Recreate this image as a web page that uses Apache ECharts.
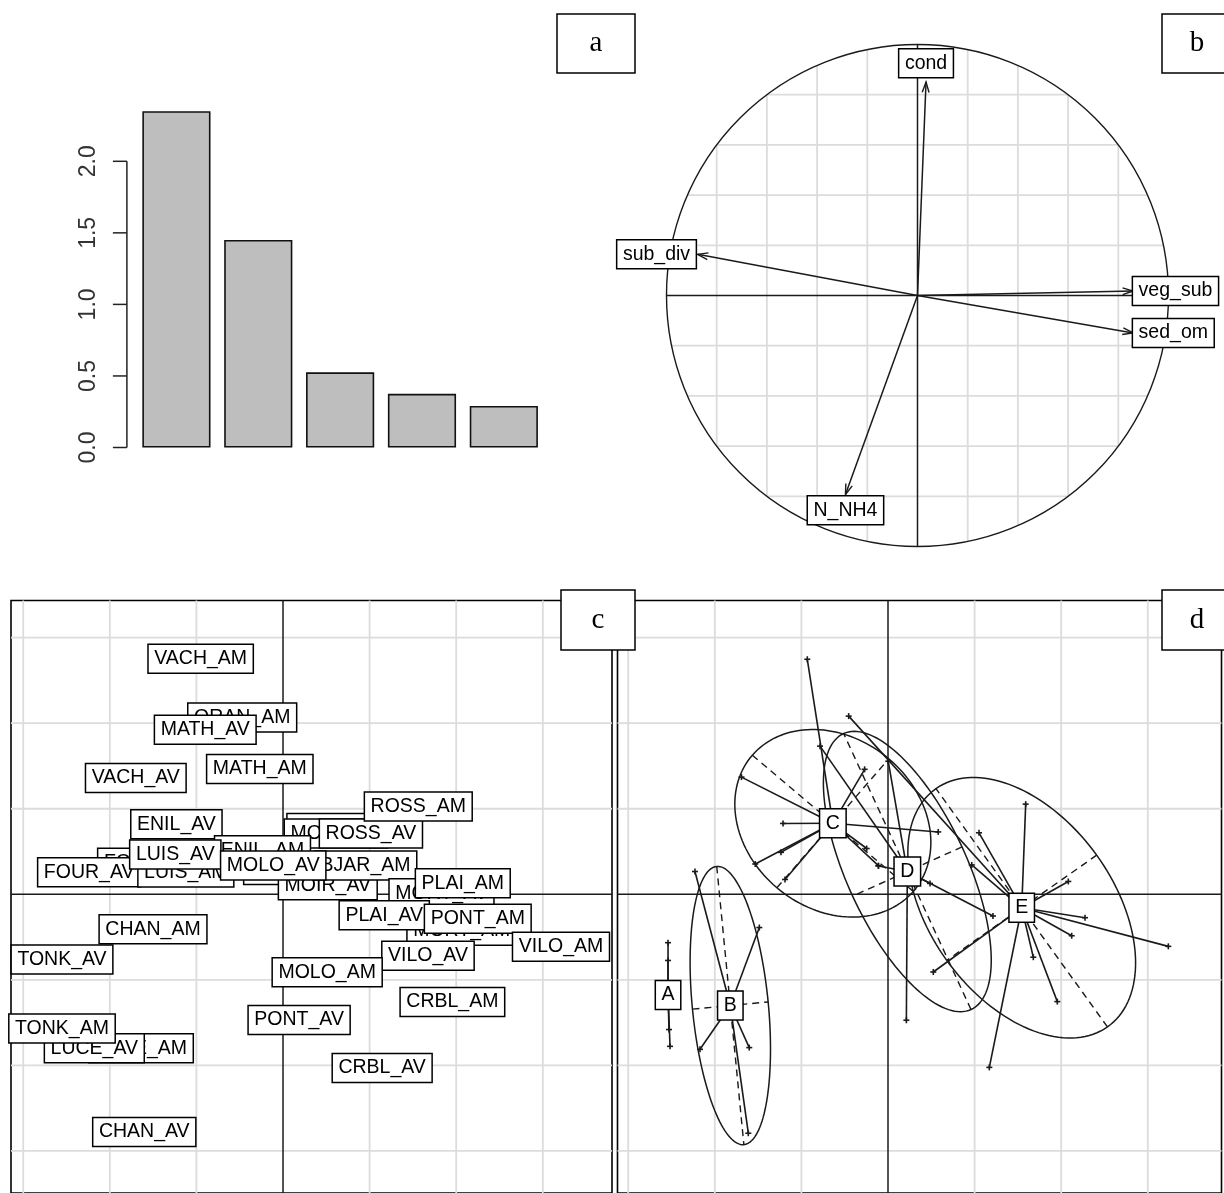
<!DOCTYPE html>
<html><head><meta charset="utf-8">
<script src="https://cdn.jsdelivr.net/npm/echarts@6/dist/echarts.min.js"></script>
<style>html,body{margin:0;padding:0;background:#fff}#c{width:1224px;height:1193px}</style>
</head><body><div id="c"></div>
<script>
// ---------------- data ----------------
// (a) eigenvalues
const eigenNames = ['1', '2', '3', '4', '5'];
const eigenValues = [2.35, 1.45, 0.525, 0.375, 0.29];
const eigenTicks = [0, 0.5, 1, 1.5, 2];
const eigenTickLabels = ['0.0', '0.5', '1.0', '1.5', '2.0'];

// (b) correlation circle
const varNames = ['cond', 'sub_div', 'veg_sub', 'sed_om', 'N_NH4'];
const varX = [0.034, -0.876, 0.859, 0.859, -0.287];
const varY = [0.851, 0.164, 0.018, -0.149, -0.793];
const corGridTicks = [-0.8, -0.6, -0.4, -0.2, 0.2, 0.4, 0.6, 0.8];

// (c) site scores (drawing order: later labels on top)
const siteNames = ['ORAN_AV', 'MOIR_AM', 'ROSS_AV', 'ROSS_AM', 'VACH_AM', 'ORAN_AM', 'MATH_AV', 'MATH_AM',
  'VACH_AV', 'ENIL_AV', 'FOUR_AM', 'FOUR_AV', 'LUIS_AM', 'ENIL_AM', 'LUIS_AV', 'BJAR_AV', 'MOIR_AV',
  'BJAR_AM', 'MOLO_AV', 'MORT_AV', 'PLAI_AM', 'MORT_AM', 'PLAI_AV', 'PONT_AM', 'VILO_AV', 'VILO_AM',
  'MOLO_AM', 'CRBL_AM', 'PONT_AV', 'CRBL_AV', 'CHAN_AM', 'TONK_AV', 'LUCE_AM', 'LUCE_AV', 'TONK_AM', 'CHAN_AV'];
const siteX = [0.647, 0.612, 1.015, 1.562, -0.951, -0.471, -0.898, -0.268,
  -1.700, -1.231, -1.518, -2.238, -1.122, -0.237, -1.244, 0.110, 0.517,
  0.953, -0.113, 1.830, 2.076, 2.064, 1.169, 2.249, 1.674, 3.210,
  0.510, 1.956, 0.186, 1.145, -1.501, -2.552, -1.640, -2.179, -2.552, -1.602];
const siteY = [0.776, 0.712, 0.712, 1.025, 2.753, 2.067, 1.925, 1.464,
  1.359, 0.820, 0.370, 0.258, 0.254, 0.514, 0.465, 0.283, 0.106,
  0.337, 0.337, 0.012, 0.130, -0.427, -0.246, -0.285, -0.719, -0.615,
  -0.912, -1.261, -1.470, -2.030, -0.408, -0.762, -1.801, -1.801, -1.570, -2.779];
const planeGridTicks = [-3, -2, -1, 1, 2, 3];

// (d) classes
const classNames = ['A', 'B', 'C', 'D', 'E'];
const classX = [-2.540, -1.821, -0.637, 0.223, 1.544];
const classY = [-1.178, -1.301, 0.830, 0.266, -0.158];
const ellipseA = [null, 1.634, 1.224, 1.773, 1.709];
const ellipseB = [null, 0.439, 0.993, 0.694, 1.062];
const ellipseAngle = [null, 95.5, 139.4, -65.5, -54.6];
const pointClass = [0, 0, 0, 0,
  1, 1, 1, 1, 1,
  2, 2, 2, 2, 2, 2, 2, 2, 2, 2,
  3, 3, 3, 3, 3, 3,
  4, 4, 4, 4, 4, 4, 4, 4, 4, 4, 4, 4];
const pointX = [-2.540, -2.540, -2.529, -2.517,
  -2.229, -1.486, -2.171, -1.602, -1.613,
  -0.932, -1.692, -1.212, -1.533, -1.236, -1.189, -0.270, 0.580, -0.111, -0.246,
  0.212, -0.110, 1.212, 0.485, -0.785, 0.003,
  1.590, 1.051, 0.967, 0.523, 1.170, 1.678, 1.955, 2.121, 2.275, 3.237, 2.082, -0.454];
const pointY = [-0.566, -0.774, -1.582, -1.778,
  0.266, -0.389, -1.813, -1.793, -2.794,
  2.748, 1.370, 0.828, 0.354, 0.490, 0.173, 1.461, 0.729, 0.335, 0.535,
  -1.473, 0.331, -0.254, 0.127, 1.732, 1.555,
  1.054, 0.719, 0.343, -0.909, -2.024, -0.736, -1.255, -0.485, -0.274, -0.609, 0.150, 2.083];

// ---------------- style / layout ----------------
const LINE = '#1a1a1a';
const GRIDC = '#dcdcdc';
const SANS = '"Liberation Sans", Arial, sans-serif';
const SERIF = '"Liberation Serif", "Times New Roman", serif';
const rangeB = [-1.1, 1.1];
const rangeCx = [-3.141, 3.799];
const rangeDx = [-3.1236, 3.851];
const rangeCDy = [-3.493, 3.435];

function seg(a, b, style) {
  return { type: 'line', shape: { x1: a[0], y1: a[1], x2: b[0], y2: b[1] }, style: style };
}
function boxText(x, y, text, align, vAlign) {
  return { type: 'text', x: x, y: y, style: {
    text: text, fontSize: 19.5, fontFamily: SANS, fill: '#000', align: align, verticalAlign: vAlign,
    backgroundColor: '#fff', borderColor: '#000', borderWidth: 1.5, padding: [4, 5.5, 3.5, 5.5], lineHeight: 20 } };
}
function planeDecor(xr, yr) {
  return function (params, api) {
    const ch = [];
    const g = { stroke: GRIDC, lineWidth: 1.8 };
    planeGridTicks.forEach(function (t) {
      ch.push(seg(api.coord([t, yr[0]]), api.coord([t, yr[1]]), g));
      ch.push(seg(api.coord([xr[0], t]), api.coord([xr[1], t]), g));
    });
    const ax = { stroke: LINE, lineWidth: 1.5 };
    ch.push(seg(api.coord([0, yr[0]]), api.coord([0, yr[1]]), ax));
    ch.push(seg(api.coord([xr[0], 0]), api.coord([xr[1], 0]), ax));
    return { type: 'group', children: ch };
  };
}

const option = {
  animation: false,
  backgroundColor: '#fff',
  grid: [
    { left: 135.5, top: 89.75, width: 409.25, height: 357.75 },
    { left: 641.4, top: 19.4, width: 552.2, height: 552.2 },
    { left: 11, top: 600.5, width: 601, height: 600, show: true, borderColor: '#000', borderWidth: 1.6, backgroundColor: 'transparent' },
    { left: 617.5, top: 600.5, width: 604, height: 600, show: true, borderColor: '#000', borderWidth: 1.6, backgroundColor: 'transparent' }
  ],
  xAxis: [
    { gridIndex: 0, type: 'category', data: eigenNames, show: false },
    { gridIndex: 1, type: 'value', min: rangeB[0], max: rangeB[1], show: false },
    { gridIndex: 2, type: 'value', min: rangeCx[0], max: rangeCx[1], show: false },
    { gridIndex: 3, type: 'value', min: rangeDx[0], max: rangeDx[1], show: false }
  ],
  yAxis: [
    { gridIndex: 0, type: 'value', min: 0, max: 2.5, show: false },
    { gridIndex: 1, type: 'value', min: rangeB[0], max: rangeB[1], show: false },
    { gridIndex: 2, type: 'value', min: rangeCDy[0], max: rangeCDy[1], show: false },
    { gridIndex: 3, type: 'value', min: rangeCDy[0], max: rangeCDy[1], show: false }
  ],
  series: [
    // ---- (a) bars
    { type: 'bar', xAxisIndex: 0, yAxisIndex: 0, data: eigenValues, barWidth: '83.3%', silent: true,
      itemStyle: { color: '#BEBEBE', borderColor: '#111', borderWidth: 1.6 } },
    // ---- (a) y axis
    { type: 'custom', xAxisIndex: 0, yAxisIndex: 0, silent: true, z: 3,
      data: eigenTicks.map(function (v, i) { return [0, v, i]; }),
      encode: { x: 0, y: 1 },
      renderItem: function (params, api) {
        const v = api.value(1), i = api.value(2);
        const p = api.coord([0, v]);
        const band = api.size([1, 0])[0];
        const ax = p[0] - band / 2 - 8.6;
        const ch = [
          seg([ax - 14, p[1]], [ax, p[1]], { stroke: '#222', lineWidth: 1.5 }),
          { type: 'text', x: ax - 38, y: p[1], rotation: Math.PI / 2,
            style: { text: eigenTickLabels[i], fontSize: 23, fontFamily: SANS, fill: '#333', align: 'center', verticalAlign: 'middle' } }
        ];
        if (i === 0) {
          const top = api.coord([0, eigenTicks[eigenTicks.length - 1]]);
          ch.push(seg([ax, p[1]], [ax, top[1]], { stroke: '#222', lineWidth: 1.5 }));
        }
        return { type: 'group', children: ch };
      } },
    // ---- (b) grid, circle, axes
    { type: 'custom', xAxisIndex: 1, yAxisIndex: 1, silent: true, z: 1,
      data: [[0, 0]], encode: { x: 0, y: 1 },
      renderItem: function (params, api) {
        const ch = [];
        const g = { stroke: GRIDC, lineWidth: 1.8 };
        corGridTicks.forEach(function (t) {
          const h = Math.sqrt(1 - t * t);
          ch.push(seg(api.coord([t, -h]), api.coord([t, h]), g));
          ch.push(seg(api.coord([-h, t]), api.coord([h, t]), g));
        });
        const o = api.coord([0, 0]);
        const r = api.size([1, 1])[0];
        ch.push({ type: 'circle', shape: { cx: o[0], cy: o[1], r: r }, style: { fill: 'none', stroke: LINE, lineWidth: 1.4 } });
        const ax = { stroke: LINE, lineWidth: 1.5 };
        ch.push(seg(api.coord([-1, 0]), api.coord([1, 0]), ax));
        ch.push(seg(api.coord([0, -1]), api.coord([0, 1]), ax));
        return { type: 'group', children: ch };
      } },
    // ---- (b) arrows
    { type: 'custom', xAxisIndex: 1, yAxisIndex: 1, silent: true, z: 3,
      data: varX.map(function (x, i) { return [x, varY[i], i]; }), encode: { x: 0, y: 1 },
      renderItem: function (params, api) {
        const o = api.coord([0, 0]);
        const p = api.coord([api.value(0), api.value(1)]);
        const dx = p[0] - o[0], dy = p[1] - o[1];
        const len = Math.sqrt(dx * dx + dy * dy);
        const ux = dx / len, uy = dy / len;
        const L = 11, ang = 18 * Math.PI / 180;
        const c = Math.cos(ang), s = Math.sin(ang);
        const h1 = [p[0] - L * (ux * c - uy * s), p[1] - L * (ux * s + uy * c)];
        const h2 = [p[0] - L * (ux * c + uy * s), p[1] - L * (-ux * s + uy * c)];
        const st = { stroke: LINE, lineWidth: 1.5 };
        return { type: 'group', children: [
          seg(o, p, st),
          { type: 'polyline', shape: { points: [h1, p, h2] }, style: { stroke: LINE, lineWidth: 1.4, fill: 'none' } }
        ] };
      } },
    // ---- (b) labels
    { type: 'custom', xAxisIndex: 1, yAxisIndex: 1, silent: true, z: 5,
      data: varX.map(function (x, i) { return [x, varY[i], i]; }), encode: { x: 0, y: 1 },
      renderItem: function (params, api) {
        const x = api.value(0), y = api.value(1), i = api.value(2);
        const p = api.coord([x, y]);
        if (Math.abs(x) > Math.abs(y)) {
          return x > 0 ? boxText(p[0], p[1], varNames[i], 'left', 'middle')
                       : boxText(p[0] - 2, p[1], varNames[i], 'right', 'middle');
        }
        return y > 0 ? boxText(p[0], p[1] - 5, varNames[i], 'center', 'bottom')
                     : boxText(p[0], p[1] + 2, varNames[i], 'center', 'top');
      } },
    // ---- (c) grid & axes
    { type: 'custom', xAxisIndex: 2, yAxisIndex: 2, silent: true, z: 1,
      data: [[0, 0]], encode: { x: 0, y: 1 }, renderItem: planeDecor(rangeCx, rangeCDy) },
    // ---- (c) site labels
    { type: 'custom', xAxisIndex: 2, yAxisIndex: 2, silent: true, z: 5,
      data: siteX.map(function (x, i) { return [x, siteY[i], i]; }), encode: { x: 0, y: 1 },
      renderItem: function (params, api) {
        const p = api.coord([api.value(0), api.value(1)]);
        return boxText(p[0], p[1], siteNames[api.value(2)], 'center', 'middle');
      } },
    // ---- (d) grid & axes
    { type: 'custom', xAxisIndex: 3, yAxisIndex: 3, silent: true, z: 1,
      data: [[0, 0]], encode: { x: 0, y: 1 }, renderItem: planeDecor(rangeDx, rangeCDy) },
    // ---- (d) ellipses
    { type: 'custom', xAxisIndex: 3, yAxisIndex: 3, silent: true, z: 3,
      data: classX.map(function (x, i) { return ellipseA[i] == null ? null : [x, classY[i], i]; }).filter(Boolean),
      encode: { x: 0, y: 1 },
      renderItem: function (params, api) {
        const cx = api.value(0), cy = api.value(1), i = api.value(2);
        const a = ellipseA[i], b = ellipseB[i], th = ellipseAngle[i] * Math.PI / 180;
        const ux = Math.cos(th), uy = Math.sin(th), vx = -uy, vy = ux;
        const pts = [];
        for (let k = 0; k <= 144; k++) {
          const t = k / 144 * 2 * Math.PI;
          pts.push(api.coord([cx + a * Math.cos(t) * ux + b * Math.sin(t) * vx,
                              cy + a * Math.cos(t) * uy + b * Math.sin(t) * vy]));
        }
        const dash = { stroke: LINE, lineWidth: 1.4, lineDash: [7, 5] };
        return { type: 'group', children: [
          { type: 'polyline', shape: { points: pts }, style: { stroke: LINE, lineWidth: 1.5, fill: 'none' } },
          seg(api.coord([cx + a * ux, cy + a * uy]), api.coord([cx - a * ux, cy - a * uy]), dash),
          seg(api.coord([cx + b * vx, cy + b * vy]), api.coord([cx - b * vx, cy - b * vy]), dash)
        ] };
      } },
    // ---- (d) stars
    { type: 'custom', xAxisIndex: 3, yAxisIndex: 3, silent: true, z: 3,
      data: pointX.map(function (x, i) { return [x, pointY[i], pointClass[i]]; }), encode: { x: 0, y: 1 },
      renderItem: function (params, api) {
        const k = api.value(2);
        const c = api.coord([classX[k], classY[k]]);
        const p = api.coord([api.value(0), api.value(1)]);
        const st = { stroke: LINE, lineWidth: 1.6 };
        return { type: 'group', children: [
          seg(c, p, st),
          seg([p[0] - 3, p[1]], [p[0] + 3, p[1]], st),
          seg([p[0], p[1] - 3], [p[0], p[1] + 3], st)
        ] };
      } },
    // ---- (d) class labels
    { type: 'custom', xAxisIndex: 3, yAxisIndex: 3, silent: true, z: 5,
      data: classX.map(function (x, i) { return [x, classY[i], i]; }), encode: { x: 0, y: 1 },
      renderItem: function (params, api) {
        const p = api.coord([api.value(0), api.value(1)]);
        return boxText(p[0], p[1], classNames[api.value(2)], 'center', 'middle');
      } }
  ],
  graphic: [
    ['a', 557, 14, 78, 59], ['b', 1162, 14, 80, 59], ['c', 561, 590, 74, 60], ['d', 1162, 590, 80, 60]
  ].map(function (t) {
    return { type: 'group', z: 100, children: [
      { type: 'rect', z: 100, shape: { x: t[1], y: t[2], width: t[3], height: t[4] }, style: { fill: '#fff', stroke: '#000', lineWidth: 1.5 } },
      { type: 'text', z: 101, x: t[1] + (t[0] === 'b' || t[0] === 'd' ? 35 : t[3] / 2), y: t[2] + t[4] / 2,
        style: { text: t[0], fontSize: 29, fontFamily: SERIF, fill: '#000', align: 'center', verticalAlign: 'middle' } }
    ] };
  })
};

const chart = echarts.init(document.getElementById('c'));
chart.setOption(option);
</script>
</body></html>
